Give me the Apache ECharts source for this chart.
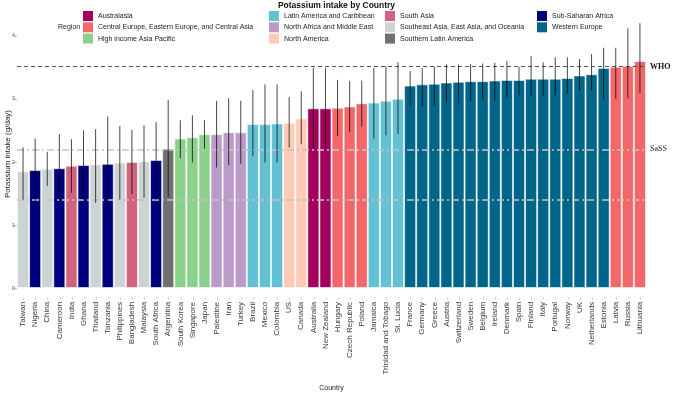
<!DOCTYPE html>
<html>
<head>
<meta charset="utf-8">
<script src="https://cdn.jsdelivr.net/npm/echarts@6/dist/echarts.min.js"></script>
<style>
  html, body { margin: 0; padding: 0; background: #fff; }
  #main { width: 673px; height: 393px; }
</style>
</head>
<body>
<div id="main"></div>
<script>
// countries in plotted order (sorted by mean intake)
var countries = ['Taiwan', 'Nigeria', 'China', 'Cameroon', 'India', 'Ghana', 'Thailand', 'Tanzania',
  'Philippines', 'Bangladesh', 'Malaysia', 'South Africa', 'Argentina', 'South Korea', 'Singapore',
  'Japan', 'Palestine', 'Iran', 'Turkey', 'Brazil', 'Mexico', 'Colombia', 'US', 'Canada', 'Australia',
  'New Zealand', 'Hungary', 'Czech Republic', 'Poland', 'Jamaica', 'Trinidad and Tobago', 'St. Lucia',
  'France', 'Germany', 'Greece', 'Austria', 'Switzerland', 'Sweden', 'Belgium', 'Ireland', 'Denmark',
  'Spain', 'Finland', 'Italy', 'Portugal', 'Norway', 'UK', 'Netherlands', 'Estonia', 'Latvia',
  'Russia', 'Lithuania'];

var regionNames = ['Australasia', 'Central Europe, Eastern Europe, and Central Asia', 'High income Asia Pacific',
  'Latin America and Caribbean', 'North Africa and Middle East', 'North America',
  'South Asia', 'Southeast Asia, East Asia, and Oceania', 'Southern Latin America',
  'Sub-Saharan Africa', 'Western Europe'];
var regionColors = ['#a3005c', '#f26769', '#8bd18b', '#63c1d3', '#bb9bc9', '#ffcbb6',
  '#d1637f', '#cdd2d2', '#707070', '#00007f', '#006689'];

// region index for every country
var countryRegion = [7, 9, 7, 9, 6, 9, 7, 9, 7, 6, 7, 9, 8, 2, 2, 2, 4, 4, 4, 3, 3, 3, 5, 5, 0, 0,
  1, 1, 1, 3, 3, 3, 10, 10, 10, 10, 10, 10, 10, 10, 10, 10, 10, 10, 10, 10, 10, 10, 10, 1, 1, 1];

// intake g/day and uncertainty interval
var intake = [1.85, 1.87, 1.89, 1.90, 1.94, 1.95, 1.96, 1.97, 1.99, 2.00, 2.01, 2.03, 2.21, 2.37,
  2.39, 2.44, 2.44, 2.47, 2.47, 2.60, 2.60, 2.61, 2.62, 2.69, 2.85, 2.85, 2.86, 2.88, 2.93, 2.94,
  2.97, 3.00, 3.21, 3.23, 3.24, 3.26, 3.27, 3.28, 3.28, 3.29, 3.30, 3.30, 3.32, 3.32, 3.32, 3.33,
  3.37, 3.39, 3.49, 3.51, 3.52, 3.60];
var lower = [1.40, 1.38, 1.62, 1.40, 1.51, 1.40, 1.35, 1.20, 1.40, 1.49, 1.43, 1.40, 1.44, 2.06,
  1.99, 2.21, 1.91, 1.95, 1.97, 2.09, 1.99, 1.99, 2.23, 2.28, 2.22, 2.22, 2.41, 2.47, 2.56, 2.37,
  2.42, 2.44, 2.89, 2.88, 2.90, 2.93, 2.93, 2.96, 2.98, 2.97, 3.01, 3.06, 3.05, 3.04, 3.06, 3.09,
  3.13, 3.13, 2.98, 3.00, 3.01, 3.09];
var upper = [2.23, 2.37, 2.16, 2.44, 2.36, 2.50, 2.52, 2.72, 2.57, 2.51, 2.58, 2.63, 2.98, 2.66,
  2.74, 2.66, 2.97, 3.01, 2.97, 3.14, 3.23, 3.23, 3.03, 3.12, 3.49, 3.49, 3.30, 3.28, 3.29, 3.49,
  3.52, 3.58, 3.44, 3.49, 3.51, 3.55, 3.54, 3.55, 3.56, 3.57, 3.60, 3.51, 3.68, 3.58, 3.66, 3.66,
  3.63, 3.71, 3.81, 3.81, 4.12, 4.20];

var yTicks = [0, 1, 2, 3, 4];
var whoLevel = 3.51;
var sassLevel = 2.2;
var lowLevel = 1.4;

var font = "'Liberation Sans', Arial, sans-serif";

var chart = echarts.init(document.getElementById('main'));

var barSeries = regionNames.map(function (name, r) {
  return {
    name: name,
    type: 'bar',
    barGap: '-100%',
    barCategoryGap: 0,
    itemStyle: { color: regionColors[r], borderColor: 'rgba(255,255,255,0.6)', borderWidth: 1 },
    data: intake.map(function (v, i) { return countryRegion[i] === r ? v : '-'; })
  };
});

var errorSeries = {
  type: 'custom',
  z: 5,
  silent: true,
  renderItem: function (params, api) {
    var x = api.value(0);
    var p1 = api.coord([x, api.value(1)]);
    var p2 = api.coord([x, api.value(2)]);
    return {
      type: 'line',
      shape: { x1: p1[0], y1: p1[1], x2: p2[0], y2: p2[1] },
      style: { stroke: 'rgba(0,0,0,0.72)', lineWidth: 1 }
    };
  },
  encode: { x: 0, y: [1, 2] },
  data: countries.map(function (c, i) { return [i, lower[i], upper[i]]; }),
  markLine: {
    silent: true,
    symbol: 'none',
    animation: false,
    data: [
      { yAxis: whoLevel, lineStyle: { type: [4, 3], color: '#555', width: 1.2 },
        label: { formatter: 'WHO', position: 'end', distance: 4, fontFamily: "'Liberation Serif', serif",
          fontWeight: 'bold', fontSize: 8, color: '#111' } },
      { yAxis: sassLevel, lineStyle: { type: [7, 3, 2, 3], color: '#c4c4c4', width: 1.6 },
        label: { formatter: 'SaSS', position: 'end', distance: 4, fontFamily: "'Liberation Serif', serif",
          fontSize: 8, color: '#222' } },
      { yAxis: lowLevel, lineStyle: { type: [7, 3, 2, 3], color: '#c4c4c4', width: 1.6 },
        label: { show: false } }
    ]
  }
};

function legendCol(left, names) {
  return {
    orient: 'vertical', left: left, top: 11, padding: 0,
    itemWidth: 10, itemHeight: 10, itemGap: 1.3, icon: 'rect',
    selectedMode: false,
    itemStyle: { borderWidth: 0 },
    textStyle: { fontSize: 7, color: '#222', fontFamily: font },
    data: names
  };
}

chart.setOption({
  animation: false,
  textStyle: { fontFamily: font },
  title: [
    { text: 'Potassium intake by Country', left: 'center', top: 1, padding: 0,
      textStyle: { fontSize: 8.5, fontWeight: 'bold', color: '#111', fontFamily: font } },
    { text: 'Region', left: 58, top: 24, padding: 0,
      textStyle: { fontSize: 7, fontWeight: 'normal', color: '#222', fontFamily: font } }
  ],
  legend: [
    legendCol(83, regionNames.slice(0, 3)),
    legendCol(269, regionNames.slice(3, 6)),
    legendCol(385, regionNames.slice(6, 9)),
    legendCol(537, regionNames.slice(9, 11))
  ],
  grid: { left: 17, right: 27, top: 20, bottom: 105, outerBoundsMode: 'none', containLabel: false },
  xAxis: {
    type: 'category',
    data: countries,
    name: 'Country',
    nameLocation: 'middle',
    nameGap: 97,
    nameTextStyle: { fontSize: 7, color: '#222' },
    axisLine: { show: false },
    axisTick: { show: false },
    axisLabel: {
      rotate: 90, interval: 0, margin: 9, fontSize: 8, color: '#3a3a3a',
      formatter: function (v) { return v + ' {t|-}'; },
      rich: { t: { color: '#aaa', fontSize: 8 } }
    }
  },
  yAxis: {
    type: 'value',
    min: 0, max: 4.25, interval: 1,
    name: 'Potassium intake (g/day)',
    nameLocation: 'middle',
    nameGap: 5,
    nameMoveOverlap: false,
    nameTextStyle: { fontSize: 8, color: '#222' },
    splitLine: { show: false },
    axisLine: { show: false },
    axisTick: { show: true, length: 3, lineStyle: { color: '#bbb' }, customValues: yTicks },
    axisLabel: { fontSize: 6, color: '#666', margin: 2, customValues: yTicks }
  },
  series: barSeries.concat([errorSeries])
});
</script>
</body>
</html>
